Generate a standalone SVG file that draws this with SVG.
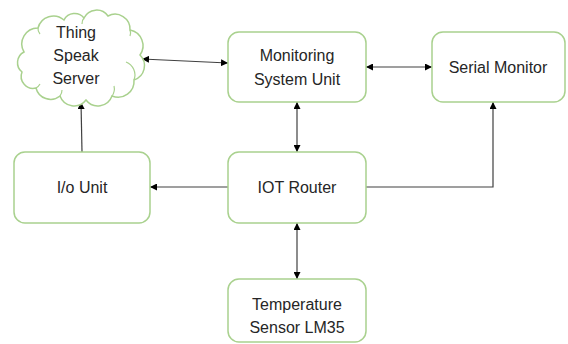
<svg xmlns="http://www.w3.org/2000/svg" width="568" height="344" viewBox="0 0 568 344">
<defs>
<style>
.box{fill:#fff;stroke:#a9d18e;stroke-width:1.5}
.lbl{font-family:"Liberation Sans",Arial,sans-serif;font-size:16px;fill:#262626;text-anchor:middle}
.ln{fill:none;stroke:#404040;stroke-width:1.2}
</style>
<marker id="ah" viewBox="0 0 10 10" refX="10" refY="5" markerWidth="7" markerHeight="7" markerUnits="userSpaceOnUse" orient="auto-start-reverse">
<path d="M0,0 L10,5 L0,10 z" fill="#000"/>
</marker>
</defs>
<rect width="568" height="344" fill="#fff"/>

<g id="connectors">
<line class="ln" x1="142" y1="59" x2="228" y2="63" marker-start="url(#ah)" marker-end="url(#ah)"/>
<line class="ln" x1="366" y1="67" x2="432" y2="67" marker-start="url(#ah)" marker-end="url(#ah)"/>
<line class="ln" x1="297" y1="102" x2="297" y2="152" marker-start="url(#ah)" marker-end="url(#ah)"/>
<line class="ln" x1="228" y1="187" x2="150" y2="187" marker-end="url(#ah)"/>
<polyline class="ln" points="366,187 493,187 493,102" marker-end="url(#ah)"/>
<line class="ln" x1="82" y1="152" x2="81" y2="102" marker-end="url(#ah)"/>
<line class="ln" x1="297" y1="223" x2="297" y2="279" marker-start="url(#ah)" marker-end="url(#ah)"/>
</g>

<g id="thingspeak">
<path class="box" d="M24,52 A16,16 0 0 1 38,28 A16,16 0 0 1 64,20 A12,12 0 0 1 84,18 A14,14 0 0 1 108,16 A15,15 0 0 1 130,30 A16,16 0 0 1 140,55 A15,15 0 0 1 134,80 A16,16 0 0 1 112,96 A15,15 0 0 1 86,100 A15,15 0 0 1 60,96 A15,15 0 0 1 36,88 A12,12 0 0 1 22,72 A12,12 0 0 1 24,52 Z"/>
<path d="M36,88 A10,10 0 0 0 40,84 M60,96 A10,10 0 0 0 62,90 M112,96 A12,12 0 0 0 114,86 M134,80 A14,14 0 0 0 126,62 M130,30 A8,8 0 0 1 130,36 M84,18 A8,8 0 0 0 82,24 M38,28 A8,8 0 0 0 40,34" fill="none" stroke="#a9d18e" stroke-width="1.2"/>
<text class="lbl" x="76" y="38">Thing</text>
<text class="lbl" x="76" y="61">Speak</text>
<text class="lbl" x="76" y="84">Server</text>
</g>

<g id="monitoring">
<rect class="box" x="228" y="32" width="138" height="70" rx="11"/>
<text class="lbl" x="297" y="61">Monitoring</text>
<text class="lbl" x="297" y="85">System Unit</text>
</g>

<g id="serial">
<rect class="box" x="432" y="32" width="133" height="70" rx="11"/>
<text class="lbl" x="498" y="73">Serial Monitor</text>
</g>

<g id="io">
<rect class="box" x="14" y="152" width="136" height="71" rx="11"/>
<text class="lbl" x="82" y="193">I/o Unit</text>
</g>

<g id="router">
<rect class="box" x="228" y="152" width="138" height="71" rx="11"/>
<text class="lbl" x="297" y="193">IOT Router</text>
</g>

<g id="sensor">
<rect class="box" x="228" y="279" width="138" height="63" rx="11"/>
<text class="lbl" x="297" y="310">Temperature</text>
<text class="lbl" x="297" y="333">Sensor LM35</text>
</g>
</svg>
